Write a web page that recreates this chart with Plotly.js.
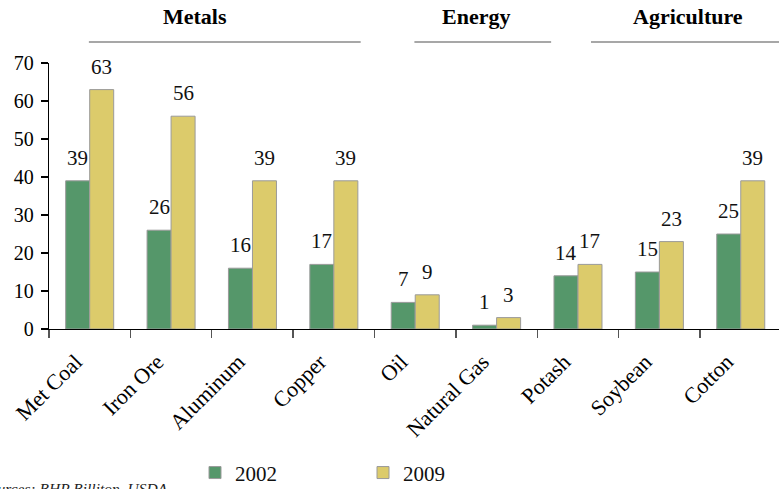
<!DOCTYPE html>
<html>
<head>
<meta charset="utf-8">
<script src="https://cdn.plot.ly/plotly-3.0.1.min.js"></script>
<style>
  html, body { margin: 0; padding: 0; background: #fff; }
  #chart { width: 779px; height: 489px; }
</style>
</head>
<body>
<div id="chart"></div>
<script>
// Commodity demand share by year
const categories = ['Met Coal', 'Iron Ore', 'Aluminum', 'Copper', 'Oil', 'Natural Gas', 'Potash', 'Soybean', 'Cotton'];
const values2002 = [39, 26, 16, 17, 7, 1, 14, 15, 25];
const values2009 = [63, 56, 39, 39, 9, 3, 17, 23, 39];
const seriesNames = ['2002', '2009'];

// Group headers spanning the category axis
const groupNames = ['Metals', 'Energy', 'Agriculture'];

const serif = "'Liberation Serif', 'Times New Roman', Times, serif";
const green = '#55976A';
const yellow = '#DCCB6B';

const traces = [
  {
    type: 'bar', name: seriesNames[0], x: categories, y: values2002,
    marker: { color: green, line: { color: '#9a9a9a', width: 1 } },
    hoverinfo: 'skip'
  },
  {
    type: 'bar', name: seriesNames[1], x: categories, y: values2009,
    marker: { color: yellow, line: { color: '#9a9a9a', width: 1 } },
    hoverinfo: 'skip'
  }
];

// Value labels above each bar
const annotations = [];
categories.forEach((c, i) => {
  annotations.push({ x: c, y: values2002[i], xref: 'x', yref: 'y', text: String(values2002[i]),
    showarrow: false, xshift: -12, yshift: 9, xanchor: 'center', yanchor: 'bottom',
    font: { family: serif, size: 21, color: '#111' } });
  annotations.push({ x: c, y: values2009[i], xref: 'x', yref: 'y', text: String(values2009[i]),
    showarrow: false, xshift: 12, yshift: 9, xanchor: 'center', yanchor: 'bottom',
    font: { family: serif, size: 21, color: '#111' } });
});

// Header text positions (category units) and their underline extents
const headerX = [1.30, 4.75, 7.35];
const headerLines = [[-0.01, 3.33], [3.99, 5.67], [6.16, 8.5]];
groupNames.forEach((g, i) => {
  annotations.push({ x: headerX[i], y: 1.173, xref: 'x', yref: 'paper', text: '<b>' + g + '</b>',
    xanchor: 'center', yanchor: 'middle',
    showarrow: false, font: { family: serif, size: 22, color: '#000' } });
});

// Source note
annotations.push({ x: 0, y: 0, xref: 'paper', yref: 'paper', xshift: 121, yshift: -159,
  xanchor: 'right', yanchor: 'middle', showarrow: false,
  text: '<i>Sources: BHP Billiton, USDA</i>', font: { family: serif, size: 15.5, color: '#222' } });

const shapes = headerLines.map(([a, b]) => ({
  type: 'line', xref: 'x', yref: 'paper', x0: a, x1: b, y0: 1.079, y1: 1.079,
  line: { color: '#8a8a8a', width: 1.3 }
}));

const layout = {
  width: 779, height: 489,
  margin: { l: 49, r: 0, t: 63, b: 160, autoexpand: false },
  paper_bgcolor: '#fff', plot_bgcolor: '#fff',
  font: { family: serif },
  barmode: 'group', bargap: 0.41, bargroupgap: 0,
  showlegend: true,
  legend: { orientation: 'h', x: 0.2, y: -0.541, xanchor: 'left', yanchor: 'middle',
    font: { family: serif, size: 21, color: '#111' }, entrywidth: 123, entrywidthmode: 'pixels',
    itemclick: false, itemdoubleclick: false },
  xaxis: {
    type: 'category', range: [-0.5, 8.47], automargin: false,
    showline: true, linecolor: '#000', linewidth: 1.3,
    ticks: 'outside', tickson: 'boundaries', ticklen: 8, tickcolor: '#555', tickwidth: 1.3,
    tickangle: -45, ticklabelshift: -14, ticklabelstandoff: 10,
    showgrid: false, zeroline: false,
    tickfont: { family: serif, size: 22, color: '#000' }
  },
  yaxis: {
    range: [0, 70], dtick: 10, automargin: false,
    showline: true, linecolor: '#000', linewidth: 1.3,
    ticks: 'outside', ticklen: 7, tickcolor: '#000', tickwidth: 1.3,
    ticklabelstandoff: 3,
    showgrid: false, zeroline: false,
    tickfont: { family: serif, size: 20, color: '#000' }
  },
  annotations: annotations,
  shapes: shapes
};

Plotly.newPlot('chart', traces, layout, { displayModeBar: false, staticPlot: true });
</script>
</body>
</html>
